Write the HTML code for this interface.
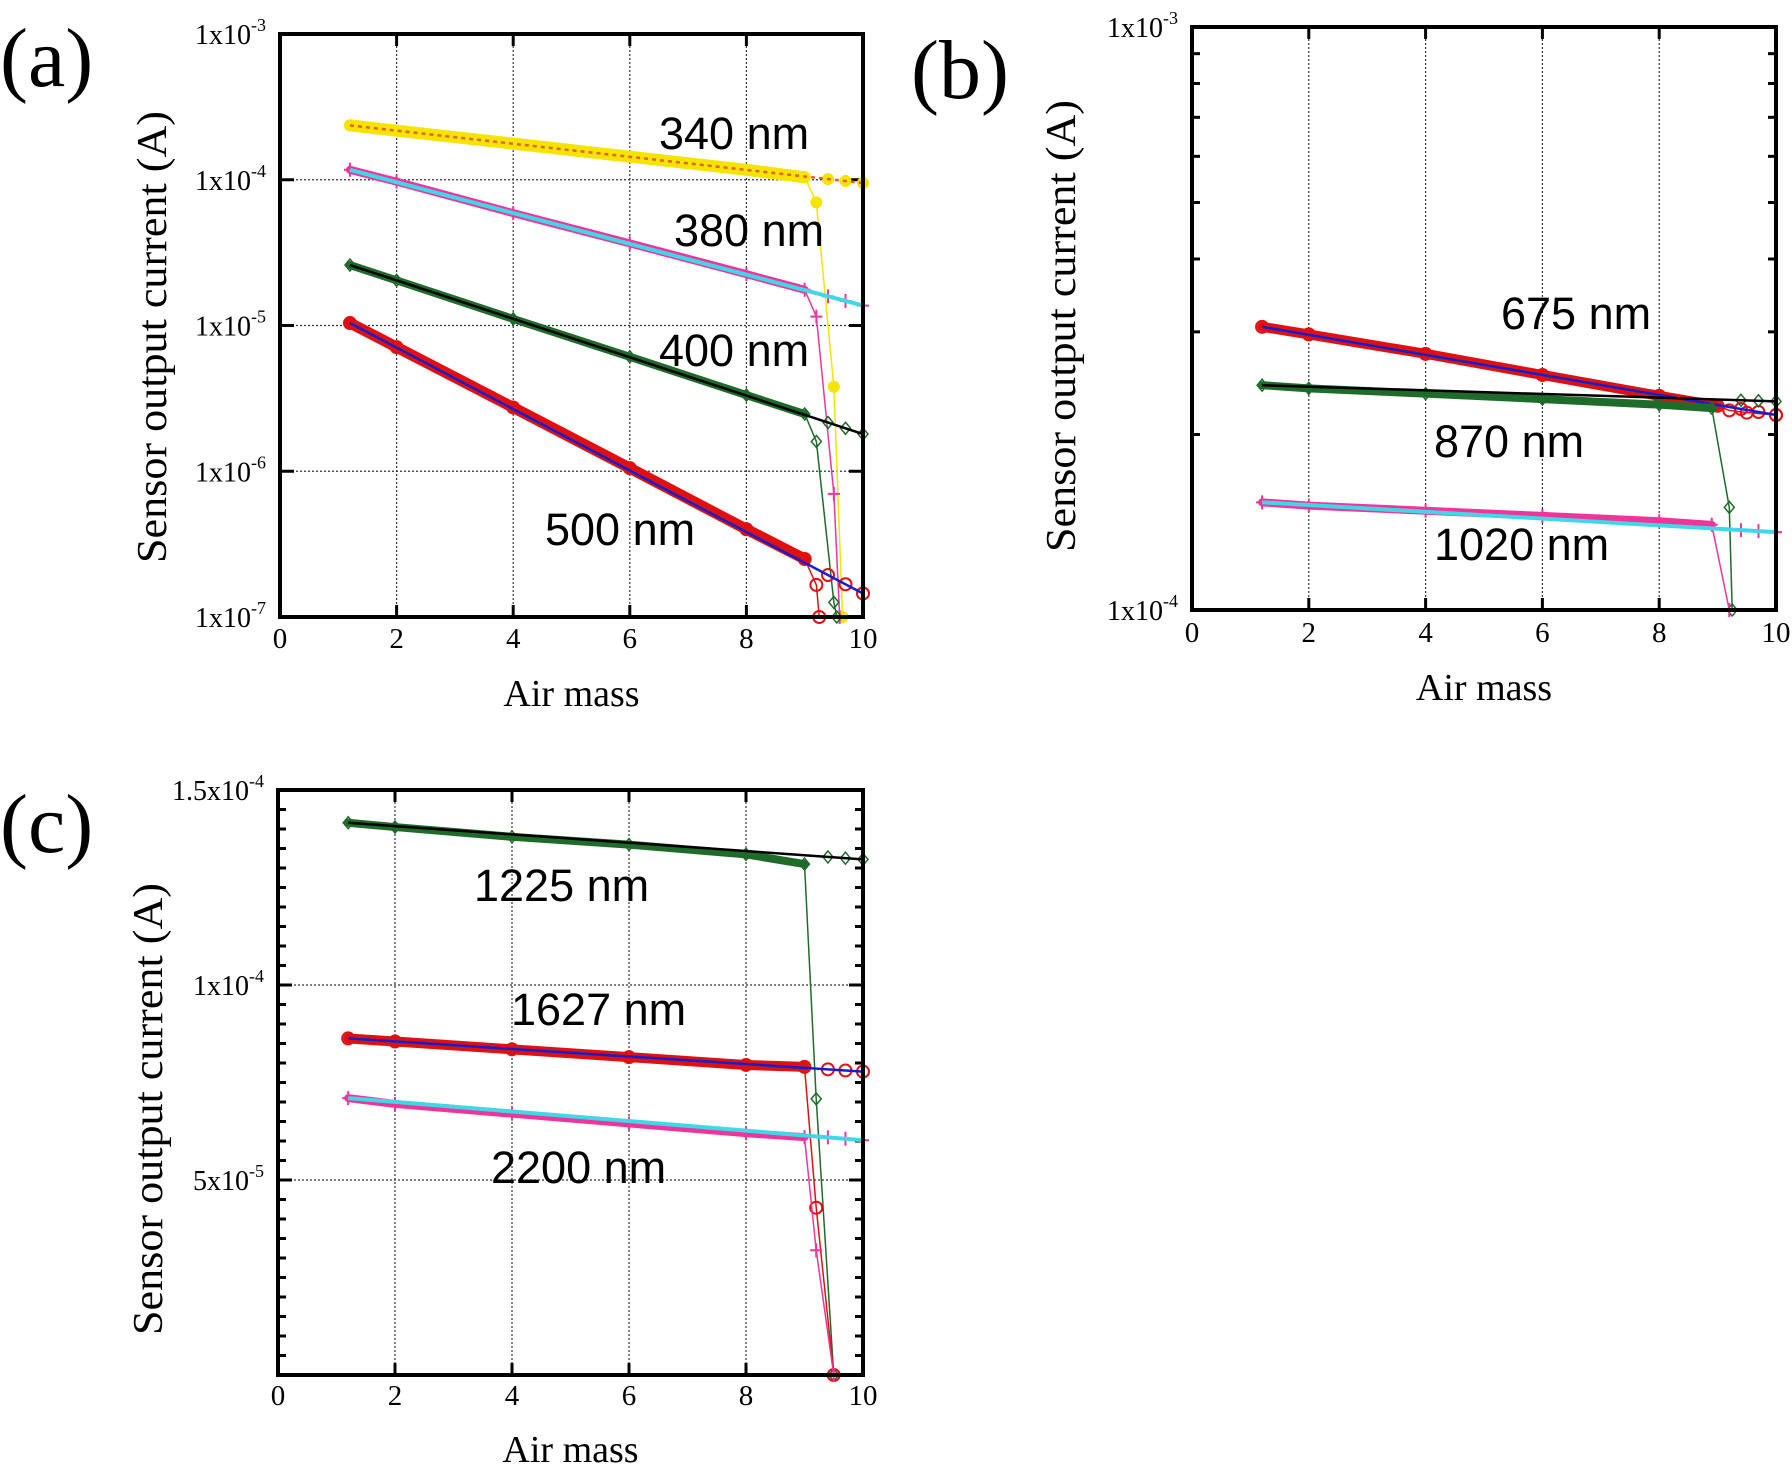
<!DOCTYPE html>
<html><head><meta charset="utf-8"><style>
html,body{margin:0;padding:0;background:#fff;}
svg{display:block;}
</style></head><body>
<svg id="fig" width="1792" height="1466" viewBox="0 0 1792 1466" xmlns="http://www.w3.org/2000/svg"></svg>
<script>
// ---- Panel (a) data ----
const aXTicks = [0,2,4,6,8,10];
const aYTickExp = [-3,-4,-5,-6,-7];
const a340X = [1.2,2,4,6,8,9,9.2,9.5,9.65];
const a340Y = [2.36e-4,2.17e-4,1.77e-4,1.44e-4,1.17e-4,1.04e-4,7e-5,3.8e-6,1e-7];
const a340Fit = [2.36e-4,9.5e-5];
const a380X = [1.2,2,4,6,8,9,9.2,9.5,9.6];
const a380Y = [1.17e-4,9.7e-5,5.9e-5,3.66e-5,2.25e-5,1.76e-5,1.15e-5,7e-7,1e-7];
const a380Fit = [1.17e-4,1.37e-5];
const a400X = [1.2,2,4,6,8,9,9.2,9.5,9.55];
const a400Y = [2.6e-5,2.04e-5,1.11e-5,6.1e-6,3.33e-6,2.47e-6,1.6e-6,1.26e-7,1e-7];
const a400Fit = [2.6e-5,1.8e-6];
const a500X = [1.2,2,4,6,8,9,9.2,9.25];
const a500Y = [1.04e-5,7.1e-6,2.74e-6,1.05e-6,4.0e-7,2.5e-7,1.66e-7,1e-7];
const a500Fit = [1.04e-5,1.45e-7];
// ---- Panel (b) data ----
const b675X = [1.2,2,4,6,8,9,9.2,9.5,10];
const b675Y = [3.06e-4,2.97e-4,2.75e-4,2.53e-4,2.33e-4,2.24e-4,2.2e-4,2.18e-4,2.16e-4];
const b675Fit = [3.06e-4,2.16e-4];
const b870X = [1.2,2,4,6,8,8.9,9.2,9.25];
const b870Y = [2.43e-4,2.4e-4,2.35e-4,2.3e-4,2.25e-4,2.22e-4,1.5e-4,1e-4];
const b870Fit = [2.43e-4,2.28e-4];
const b1020X = [1.2,2,4,6,8,8.9,9.2];
const b1020Y = [1.53e-4,1.51e-4,1.48e-4,1.45e-4,1.42e-4,1.40e-4,1e-4];
const b1020Fit = [1.53e-4,1.36e-4];
// ---- Panel (c) data ----
const c1225X = [1.2,2,4,6,8,9,9.2,9.5];
const c1225Y = [1.416e-4,1.405e-4,1.38e-4,1.36e-4,1.335e-4,1.31e-4,0.708e-4,0];
const c1225Fit = [1.416e-4,1.322e-4];
const c1627X = [1.2,2,4,6,8,9,9.2,9.5];
const c1627Y = [0.863e-4,0.855e-4,0.835e-4,0.815e-4,0.795e-4,0.79e-4,0.429e-4,0];
const c1627Fit = [0.863e-4,0.778e-4];
const c2200X = [1.2,2,4,6,8,9,9.2,9.5];
const c2200Y = [0.71e-4,0.695e-4,0.67e-4,0.645e-4,0.62e-4,0.61e-4,0.32e-4,0];
const c2200Fit = [0.71e-4,0.602e-4];
const fitX = [1.2,10];
const tailX = [9.4,9.7,10];

const NS="http://www.w3.org/2000/svg";
const svg=document.getElementById('fig');
function mk(tag,attrs,parent){const e=document.createElementNS(NS,tag);for(const k in attrs)e.setAttribute(k,attrs[k]);(parent||svg).appendChild(e);return e;}

function panel(cfg){
  const g=mk('g',{});
  
  
  const L=cfg.L,R=cfg.R,T=cfg.T,B=cfg.B;
  const sx=v=>L+(v-0)/10*(R-L);
  let sy;
  if(cfg.log){const lo=Math.log10(cfg.ymin),hi=Math.log10(cfg.ymax);sy=v=>B-(Math.log10(v)-lo)/(hi-lo)*(B-T);}
  else{sy=v=>B-(v-cfg.ymin)/(cfg.ymax-cfg.ymin)*(B-T);}
  const fitAt=(s,x)=>{const t=(x-fitX[0])/(fitX[1]-fitX[0]);return cfg.log?Math.pow(10,Math.log10(s.fit[0])+t*(Math.log10(s.fit[1])-Math.log10(s.fit[0]))):s.fit[0]+t*(s.fit[1]-s.fit[0]);};
  for(const t of aXTicks){ if(t>0&&t<10){const l=mk('line',{x1:sx(t),x2:sx(t),y1:T,y2:B,stroke:'#333','stroke-width':1.2,'stroke-dasharray':'2,2'},g);
    
    }
    mk('line',{x1:sx(t),x2:sx(t),y1:T,y2:T+12,stroke:'#000','stroke-width':3},g);
    mk('line',{x1:sx(t),x2:sx(t),y1:B,y2:B-12,stroke:'#000','stroke-width':3},g);
    const tl=mk('text',{x:sx(t),y:cfg.xLabY,'text-anchor':'middle','font-family':'Liberation Serif, serif','font-size':29},g);
    tl.textContent=t;
    
    
  }
  for(const gv of cfg.hgrid){const l=mk('line',{x1:L,x2:R,y1:sy(gv),y2:sy(gv),stroke:'#333','stroke-width':1.2,'stroke-dasharray':'2,2'},g);
    
    }
  for(const mv of cfg.major){mk('line',{x1:L,x2:L+14,y1:sy(mv),y2:sy(mv),stroke:'#000','stroke-width':3},g);mk('line',{x1:R,x2:R-14,y1:sy(mv),y2:sy(mv),stroke:'#000','stroke-width':3},g);}
  for(const mv of cfg.minor){mk('line',{x1:L,x2:L+8,y1:sy(mv),y2:sy(mv),stroke:'#000','stroke-width':3},g);mk('line',{x1:R,x2:R-8,y1:sy(mv),y2:sy(mv),stroke:'#000','stroke-width':3},g);}
  for(const yl of cfg.yLabels){
    const t=mk('text',{x:L-14,y:sy(yl.v)+10,'text-anchor':'end','font-family':'Liberation Serif, serif','font-size':28},g);
    t.innerHTML=yl.m+'<tspan dy="-13" font-size="18">'+yl.e+'</tspan>';
    
    
  }
  const mark=(sg,s,px,py)=>{
      let m;
      if(s.m==='o')m=mk('circle',{cx:px,cy:py,r:6,fill:'none',stroke:s.c,'stroke-width':2},sg);
      else if(s.m==='fo')m=mk('circle',{cx:px,cy:py,r:6,fill:s.c},sg);
      else if(s.m==='d')m=mk('path',{d:`M${px},${py-6}L${px+5},${py}L${px},${py+6}L${px-5},${py}Z`,fill:'none',stroke:s.c,'stroke-width':1.5},sg);
      else m=mk('path',{d:`M${px-6},${py}H${px+6}M${px},${py-7}V${py+7}`,stroke:s.c,'stroke-width':2},sg);
      
      
  };
  for(const s of cfg.series){
    const sg=mk('g',{},g);
    
    
    const cy=v=>Math.min(B,sy(Math.max(v,cfg.log?cfg.ymin:0)));
    const pts=s.x.map((x,i)=>sx(x)+','+cy(s.y[i])).join(' ');
    const mainPts=s.x.map((x,i)=>[x,s.y[i]]).filter(p=>p[0]<=9.01).map(p=>sx(p[0])+','+sy(p[1])).join(' ');
    mk('polyline',{points:mainPts,fill:'none',stroke:s.c,'stroke-width':s.band||8,'stroke-linecap':'round'},sg);
    mk('polyline',{points:pts,fill:'none',stroke:s.c,'stroke-width':1.5},sg);
    s.x.forEach((x,i)=>mark(sg,s,sx(x),cy(s.y[i])));
    tailX.forEach(x=>mark(sg,s,sx(x),sy(fitAt(s,x))));
    const f=mk('line',{x1:sx(fitX[0]),y1:sy(s.fit[0]),x2:sx(fitX[1]),y2:sy(s.fit[1]),stroke:s.fc,'stroke-width':s.fw||2.5,'stroke-dasharray':s.fd||'none'},sg);
    
    
    const lt=mk('text',{x:s.lx,y:s.ly,'font-family':'Liberation Sans, sans-serif','font-size':45},g);
    lt.textContent=s.label;
    
    
  }
  const fr=mk('rect',{x:L,y:T,width:R-L,height:B-T,fill:'none',stroke:'#000','stroke-width':4},g);
  
  
  const xt=mk('text',{x:(L+R)/2,y:cfg.xTitleY,'text-anchor':'middle','font-family':'Liberation Serif, serif','font-size':38},g);
  xt.textContent='Air mass';
  
  
  const yt=mk('text',{x:0,y:0,'text-anchor':'middle','font-family':'Liberation Serif, serif','font-size':42,transform:`translate(${cfg.yTitleX},${cfg.yTitleY}) rotate(-90)`,textLength:452,lengthAdjust:'spacingAndGlyphs'},g);
  yt.textContent='Sensor output current (A)';
  
  
  const pl=mk('text',{x:cfg.tagX,y:cfg.tagY,'font-family':'Liberation Serif, serif','font-size':84},g);
  pl.textContent=cfg.tag;
  
  
}
function logMinor(lo,hi){const r=[];for(let e=lo;e<hi;e++)for(let k=2;k<=9;k++)r.push(k*Math.pow(10,e));return r;}

panel({name:'panel-a',tag:'(a)',tagX:0,tagY:86,L:280,R:863,T:34,B:617,log:true,ymin:1e-7,ymax:1e-3,
  hgrid:[1e-4,1e-5,1e-6],major:[1e-3,1e-4,1e-5,1e-6,1e-7],minor:[],
  yLabels:aYTickExp.map(e=>({v:Math.pow(10,e),m:'1x10',e:String(e)})),
  xLabY:648,xTitleY:706,yTitleX:166,yTitleY:337,
  series:[
   {label:'340 nm',x:a340X,y:a340Y,fit:a340Fit,c:'#f5e400',fc:'#e8602a',fd:'4,4',m:'fo',lx:659,ly:149,band:12},
   {label:'380 nm',x:a380X,y:a380Y,fit:a380Fit,c:'#f0359a',fc:'#40d8e8',fw:4,m:'+',lx:674,ly:246},
   {label:'400 nm',x:a400X,y:a400Y,fit:a400Fit,c:'#1f6b2a',fc:'#000',m:'d',lx:659,ly:366},
   {label:'500 nm',x:a500X,y:a500Y,fit:a500Fit,c:'#e01010',fc:'#1020d0',m:'o',lx:545,ly:545,band:11}
  ]});
panel({name:'panel-b',tag:'(b)',tagX:911,tagY:98,L:1192,R:1776,T:27,B:610,log:true,ymin:1e-4,ymax:1e-3,
  hgrid:[],major:[1e-3,1e-4],minor:logMinor(-4,-3),
  yLabels:[{v:1e-3,m:'1x10',e:'-3'},{v:1e-4,m:'1x10',e:'-4'}],
  xLabY:642,xTitleY:700,yTitleX:1075,yTitleY:326,
  series:[
   {label:'675 nm',x:b675X,y:b675Y,fit:b675Fit,c:'#e01010',fc:'#1020d0',m:'o',lx:1501,ly:329,band:10},
   {label:'870 nm',x:b870X,y:b870Y,fit:b870Fit,c:'#1f6b2a',fc:'#000',m:'d',lx:1434,ly:457},
   {label:'1020 nm',x:b1020X,y:b1020Y,fit:b1020Fit,c:'#f0359a',fc:'#40d8e8',fw:4,m:'+',lx:1434,ly:560}
  ]});
(function(){const mn=[];for(let v=5e-6;v<1.5e-4;v+=5e-6)mn.push(v);
panel({name:'panel-c',tag:'(c)',tagX:0,tagY:852,L:278,R:863,T:790,B:1375,log:false,ymin:0,ymax:1.5e-4,
  hgrid:[5e-5,1e-4],major:[5e-5,1e-4],minor:mn,
  yLabels:[{v:1.5e-4,m:'1.5x10',e:'-4'},{v:1e-4,m:'1x10',e:'-4'},{v:5e-5,m:'5x10',e:'-5'}],
  xLabY:1405,xTitleY:1462,yTitleX:162,yTitleY:1109,
  series:[
   {label:'1225 nm',x:c1225X,y:c1225Y,fit:c1225Fit,c:'#1f6b2a',fc:'#000',m:'d',lx:474,ly:901},
   {label:'1627 nm',x:c1627X,y:c1627Y,fit:c1627Fit,c:'#e01010',fc:'#1020d0',m:'o',lx:511,ly:1025,band:10},
   {label:'2200 nm',x:c2200X,y:c2200Y,fit:c2200Fit,c:'#f0359a',fc:'#40d8e8',fw:4,m:'+',lx:491,ly:1183}
  ]});})();
</script>
</body></html>
